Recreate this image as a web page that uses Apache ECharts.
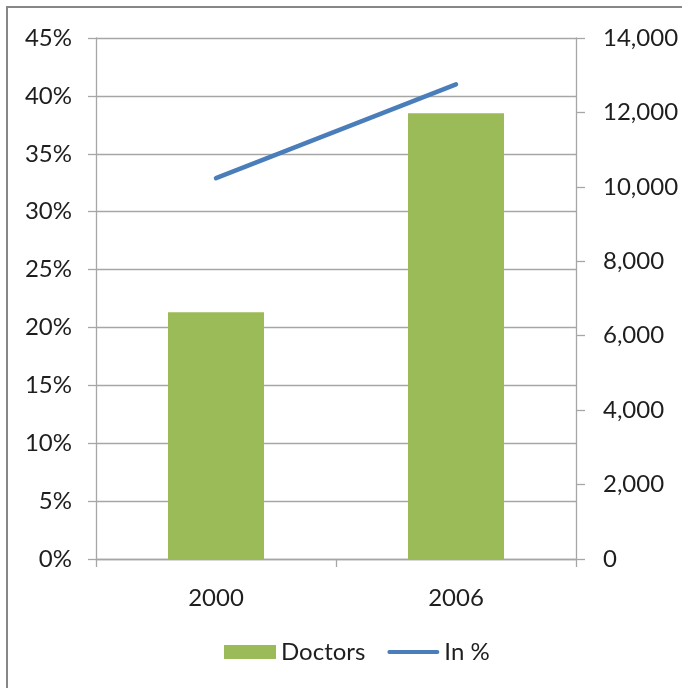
<!DOCTYPE html>
<html><head><meta charset="utf-8">
<script src="https://cdn.jsdelivr.net/npm/echarts@6/dist/echarts.min.js"></script>
<style>
html,body{margin:0;padding:0;background:#fff;}
#frame{position:absolute;left:6px;top:6px;width:720px;height:720px;border:2px solid #878787;box-sizing:border-box;}
#c{position:absolute;left:0;top:0;width:682px;height:688px;}
</style></head>
<body><div id="frame"></div><div id="c"></div>
<script>
const categories = ['2000', '2006'];
const doctors = [6630, 11980];
const inPercent = [32.9, 41.0];
const leftMax = 45, leftInterval = 5;
const rightMax = 14000, rightInterval = 2000;

const font = 'Lato';
const fs = 24;
const txt = '#1e1e1e';
const chart = echarts.init(document.getElementById('c'), null, {renderer: 'canvas'});
chart.setOption({
  animation: false,
  textStyle: {fontFamily: font},
  grid: {left: 96, right: 106, top: 38, bottom: 129},
  legend: {
    top: 635, left: 219, itemWidth: 52, itemHeight: 14, itemGap: 22,
    textStyle: {fontFamily: font, fontSize: fs, color: txt},
    data: [{name: 'Doctors', icon: 'rect'},
           {name: 'In %', icon: 'path://M2,0L52,0A2,2 0 0 1 52,4L2,4A2,2 0 0 1 2,0Z'}]
  },
  xAxis: {
    type: 'category', data: categories,
    axisLine: {lineStyle: {color: '#a6a6a6', width: 1.3}},
    axisTick: {show: true, length: 8, lineStyle: {color: '#a6a6a6', width: 1.3}},
    axisLabel: {fontFamily: font, fontSize: fs, color: txt, margin: 27}
  },
  yAxis: [{
    type: 'value', min: 0, max: leftMax, interval: leftInterval, position: 'left',
    axisLine: {show: true, lineStyle: {color: '#a6a6a6', width: 1.3}},
    axisTick: {show: true, length: 8, lineStyle: {color: '#a6a6a6', width: 1.3}},
    splitLine: {show: true, lineStyle: {color: '#a6a6a6', width: 1.3}},
    axisLabel: {fontFamily: font, fontSize: fs, color: txt, margin: 24, formatter: '{value}%'}
  }, {
    type: 'value', min: 0, max: rightMax, interval: rightInterval, position: 'right',
    axisLine: {show: true, lineStyle: {color: '#a6a6a6', width: 1.3}},
    axisTick: {show: true, length: 9, lineStyle: {color: '#a6a6a6', width: 1.3}},
    splitLine: {show: false},
    axisLabel: {fontFamily: font, fontSize: fs, color: txt, margin: 27,
      formatter: v => v.toLocaleString('en-US')}
  }],
  series: [{
    name: 'Doctors', type: 'bar', yAxisIndex: 1, data: doctors,
    barWidth: '40%', itemStyle: {color: '#9bbb59'}
  }, {
    name: 'In %', type: 'line', yAxisIndex: 0, data: inPercent,
    symbol: 'none', lineStyle: {color: '#4a7ebb', width: 4.5, cap: 'round'},
    itemStyle: {color: '#4a7ebb'}
  }]
});
</script></body></html>
